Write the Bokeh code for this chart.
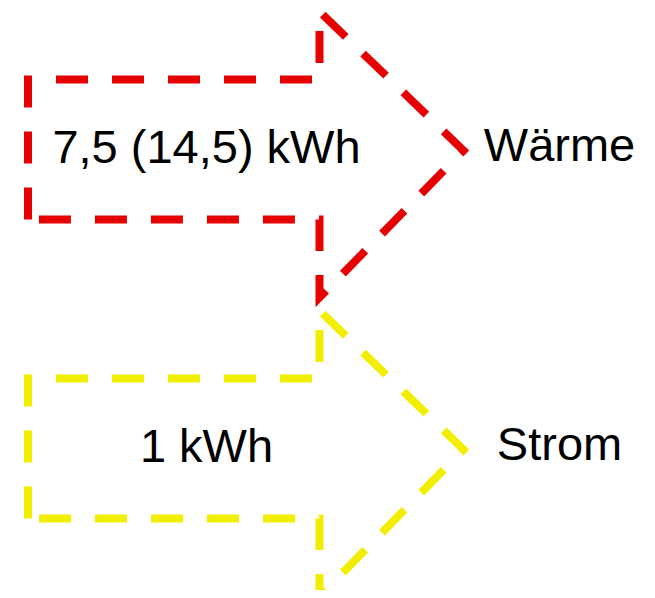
from bokeh.plotting import figure
from bokeh.models import Range1d, ColumnDataSource
from bokeh.core.properties import value
from bokeh.embed import file_html
from bokeh.resources import INLINE

# ---- data ----
amounts = ["7,5 (14,5) kWh", "1 kWh"]      # energy per arrow
targets = ["Wärme", "Strom"]               # what the arrow stands for
arrow_colors = ["#E60000", "#F2EE00"]

# ---- layout (page pixel coordinates) ----
row_center = [149, 448]
x_left, x_neck, x_tip = 27.5, 319, 463
shaft_half = 70
head_top_off, head_bot_off, tip_off = -138, 148, 1
amount_x, target_x = 206, 559
amount_base_off, target_base_off = -3.5, -5.5

W, H = 647, 590
p = figure(width=W, height=H, output_backend="svg", toolbar_location=None,
           x_range=Range1d(0, W), y_range=Range1d(H, 0),
           x_axis_type=None, y_axis_type=None, min_border=0)
p.outline_line_color = None
p.background_fill_color = "white"
p.border_fill_color = "white"

for cy, col in zip(row_center, arrow_colors):
    xs = [x_left, x_left, x_neck, x_neck, x_tip, x_neck, x_neck, x_left]
    ys = [cy + shaft_half, cy - shaft_half, cy - shaft_half, cy + head_top_off,
          cy + tip_off, cy + head_bot_off, cy + shaft_half, cy + shaft_half]
    p.line(xs, ys, line_color=col, line_width=8, line_dash="32 24",
           line_join="miter", line_cap="butt")

src_a = ColumnDataSource(dict(x=[amount_x] * len(amounts),
                              y=[c + amount_base_off for c in row_center],
                              t=amounts))
src_t = ColumnDataSource(dict(x=[target_x] * len(targets),
                              y=[c + target_base_off for c in row_center],
                              t=targets))
for src in (src_a, src_t):
    p.text(x="x", y="y", text="t", source=src,
           text_font=value("Liberation Sans"), text_font_size=value("47px"),
           text_align="center", text_baseline="alphabetic", text_color="black")

open("out.html", "w").write(file_html(p, INLINE))
